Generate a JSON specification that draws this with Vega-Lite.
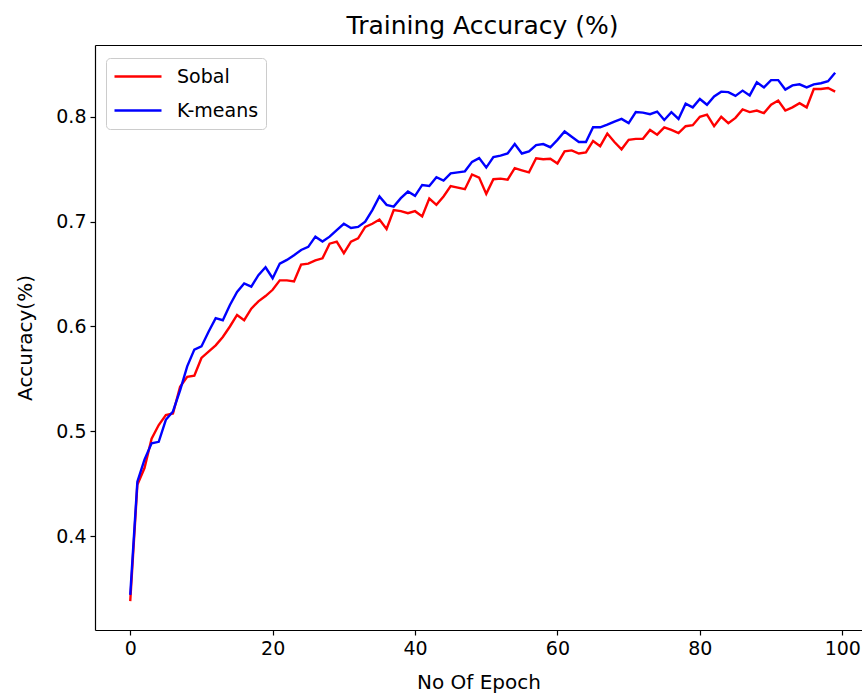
{
  "$schema": "https://vega.github.io/schema/vega-lite/v6.json",
  "autosize": {"type": "none"},
  "padding": {"left": 95, "top": 45, "right": 0, "bottom": 65},
  "width": 767,
  "height": 585,
  "background": "white",
  "config": {
    "font": "DejaVu Sans",
    "view": {"stroke": null},
    "axis": {
      "domainColor": "black", "domainWidth": 1.2, "tickColor": "black", "tickSize": 5, "tickWidth": 1.2,
      "labelColor": "black", "labelFont": "DejaVu Sans", "labelFontSize": 19, "labelPadding": 4,
      "titleColor": "black", "titleFont": "DejaVu Sans", "titleFontSize": 20, "titleFontWeight": "normal",
      "grid": false
    }
  },
  "title": {"text": "Training Accuracy (%)", "fontSize": 25, "fontWeight": "normal", "font": "DejaVu Sans", "color": "black", "anchor": "middle", "offset": 6, "dx": 4},
  "data": {"values": [
{"epoch":0,"Sobal":0.338,"K-means":0.344},{"epoch":1,"Sobal":0.449,"K-means":0.452},{"epoch":2,"Sobal":0.465,"K-means":0.473},{"epoch":3,"Sobal":0.493,"K-means":0.4885},{"epoch":4,"Sobal":0.506,"K-means":0.490},
{"epoch":5,"Sobal":0.5155,"K-means":0.511},{"epoch":6,"Sobal":0.517,"K-means":0.519},{"epoch":7,"Sobal":0.5425,"K-means":0.539},{"epoch":8,"Sobal":0.552,"K-means":0.562},{"epoch":9,"Sobal":0.553,"K-means":0.578},
{"epoch":10,"Sobal":0.570,"K-means":0.581},{"epoch":11,"Sobal":0.576,"K-means":0.595},{"epoch":12,"Sobal":0.582,"K-means":0.608},{"epoch":13,"Sobal":0.590,"K-means":0.606},{"epoch":14,"Sobal":0.600,"K-means":0.6205},
{"epoch":15,"Sobal":0.611,"K-means":0.633},{"epoch":16,"Sobal":0.606,"K-means":0.641},{"epoch":17,"Sobal":0.617,"K-means":0.638},{"epoch":18,"Sobal":0.624,"K-means":0.649},{"epoch":19,"Sobal":0.629,"K-means":0.6565},
{"epoch":20,"Sobal":0.635,"K-means":0.646},{"epoch":21,"Sobal":0.644,"K-means":0.660},{"epoch":22,"Sobal":0.644,"K-means":0.6635},{"epoch":23,"Sobal":0.643,"K-means":0.668},{"epoch":24,"Sobal":0.659,"K-means":0.673},
{"epoch":25,"Sobal":0.660,"K-means":0.676},{"epoch":26,"Sobal":0.663,"K-means":0.6857},{"epoch":27,"Sobal":0.665,"K-means":0.681},{"epoch":28,"Sobal":0.679,"K-means":0.6857},{"epoch":29,"Sobal":0.681,"K-means":0.692},
{"epoch":30,"Sobal":0.670,"K-means":0.698},{"epoch":31,"Sobal":0.681,"K-means":0.694},{"epoch":32,"Sobal":0.684,"K-means":0.695},{"epoch":33,"Sobal":0.695,"K-means":0.700},{"epoch":34,"Sobal":0.698,"K-means":0.711},
{"epoch":35,"Sobal":0.702,"K-means":0.724},{"epoch":36,"Sobal":0.693,"K-means":0.716},{"epoch":37,"Sobal":0.711,"K-means":0.7144},{"epoch":38,"Sobal":0.710,"K-means":0.7224},{"epoch":39,"Sobal":0.708,"K-means":0.7287},
{"epoch":40,"Sobal":0.710,"K-means":0.7246},{"epoch":41,"Sobal":0.705,"K-means":0.735},{"epoch":42,"Sobal":0.722,"K-means":0.734},{"epoch":43,"Sobal":0.716,"K-means":0.7424},{"epoch":44,"Sobal":0.724,"K-means":0.7392},
{"epoch":45,"Sobal":0.734,"K-means":0.746},{"epoch":46,"Sobal":0.7325,"K-means":0.747},{"epoch":47,"Sobal":0.731,"K-means":0.748},{"epoch":48,"Sobal":0.745,"K-means":0.757},{"epoch":49,"Sobal":0.742,"K-means":0.7606},
{"epoch":50,"Sobal":0.7265,"K-means":0.7516},{"epoch":51,"Sobal":0.7405,"K-means":0.7615},{"epoch":52,"Sobal":0.741,"K-means":0.763},{"epoch":53,"Sobal":0.740,"K-means":0.765},{"epoch":54,"Sobal":0.751,"K-means":0.774},
{"epoch":55,"Sobal":0.749,"K-means":0.765},{"epoch":56,"Sobal":0.747,"K-means":0.767},{"epoch":57,"Sobal":0.7605,"K-means":0.773},{"epoch":58,"Sobal":0.7595,"K-means":0.774},{"epoch":59,"Sobal":0.760,"K-means":0.771},
{"epoch":60,"Sobal":0.7555,"K-means":0.778},{"epoch":61,"Sobal":0.767,"K-means":0.786},{"epoch":62,"Sobal":0.768,"K-means":0.781},{"epoch":63,"Sobal":0.765,"K-means":0.776},{"epoch":64,"Sobal":0.766,"K-means":0.776},
{"epoch":65,"Sobal":0.777,"K-means":0.790},{"epoch":66,"Sobal":0.772,"K-means":0.790},{"epoch":67,"Sobal":0.784,"K-means":0.7925},{"epoch":68,"Sobal":0.776,"K-means":0.7955},{"epoch":69,"Sobal":0.769,"K-means":0.798},
{"epoch":70,"Sobal":0.778,"K-means":0.794},{"epoch":71,"Sobal":0.779,"K-means":0.8045},{"epoch":72,"Sobal":0.779,"K-means":0.804},{"epoch":73,"Sobal":0.7875,"K-means":0.8025},{"epoch":74,"Sobal":0.783,"K-means":0.805},
{"epoch":75,"Sobal":0.790,"K-means":0.797},{"epoch":76,"Sobal":0.7875,"K-means":0.8045},{"epoch":77,"Sobal":0.7845,"K-means":0.798},{"epoch":78,"Sobal":0.791,"K-means":0.8125},{"epoch":79,"Sobal":0.792,"K-means":0.809},
{"epoch":80,"Sobal":0.800,"K-means":0.817},{"epoch":81,"Sobal":0.802,"K-means":0.8115},{"epoch":82,"Sobal":0.791,"K-means":0.8194},{"epoch":83,"Sobal":0.800,"K-means":0.824},{"epoch":84,"Sobal":0.794,"K-means":0.8236},
{"epoch":85,"Sobal":0.799,"K-means":0.820},{"epoch":86,"Sobal":0.807,"K-means":0.825},{"epoch":87,"Sobal":0.8045,"K-means":0.8204},{"epoch":88,"Sobal":0.806,"K-means":0.833},{"epoch":89,"Sobal":0.8035,"K-means":0.828},
{"epoch":90,"Sobal":0.8115,"K-means":0.835},{"epoch":91,"Sobal":0.8155,"K-means":0.835},{"epoch":92,"Sobal":0.806,"K-means":0.826},{"epoch":93,"Sobal":0.809,"K-means":0.830},{"epoch":94,"Sobal":0.813,"K-means":0.831},
{"epoch":95,"Sobal":0.809,"K-means":0.828},{"epoch":96,"Sobal":0.8265,"K-means":0.831},{"epoch":97,"Sobal":0.8265,"K-means":0.832},{"epoch":98,"Sobal":0.8275,"K-means":0.834},{"epoch":99,"Sobal":0.824,"K-means":0.842}
  ]},
  "transform": [{"fold": ["Sobal", "K-means"], "as": ["series", "acc"]}],
  "resolve": {"axis": {"x": "independent"}},
  "layer": [
    {
      "mark": {"type": "line", "strokeWidth": 2.4},
      "encoding": {
        "x": {"field": "epoch", "type": "quantitative",
              "scale": {"domain": [-4.95, 102.77], "nice": false, "zero": false},
              "axis": {"values": [0, 20, 40, 60, 80, 100], "title": "No Of Epoch", "titlePadding": 14}},
        "y": {"field": "acc", "type": "quantitative",
              "scale": {"domain": [0.3105, 0.8685], "nice": false, "zero": false},
              "axis": {"values": [0.4, 0.5, 0.6, 0.7, 0.8], "format": ".1f", "title": "Accuracy(%)", "titlePadding": 20}},
        "color": {"field": "series", "type": "nominal",
                  "scale": {"domain": ["Sobal", "K-means"], "range": ["#ff0000", "#0000ff"]},
                  "legend": {"title": null, "orient": "none", "legendX": 11, "legendY": 13,
                             "symbolType": "stroke", "symbolSize": 2209, "symbolStrokeWidth": 2.4,
                             "clipHeight": 23, "rowPadding": 11, "padding": 7, "labelOffset": 14,
                             "labelFontSize": 19, "labelFont": "DejaVu Sans", "labelColor": "black",
                             "labelLimit": 300,
                             "strokeColor": "#cccccc", "fillColor": "white", "cornerRadius": 4}}
      }
    },
    {
      "mark": {"type": "rule", "opacity": 0},
      "encoding": {
        "x": {"field": "epoch", "type": "quantitative",
              "axis": {"orient": "top", "labels": false, "ticks": false, "title": null}}
      }
    }
  ]
}
